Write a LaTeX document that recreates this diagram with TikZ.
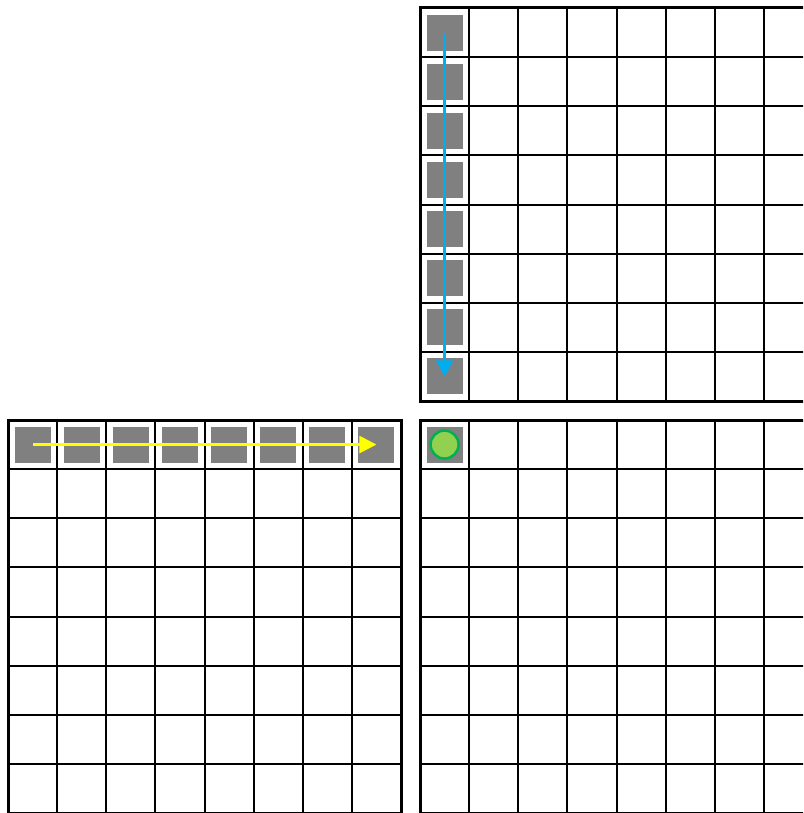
\documentclass[tikz,border=0pt]{standalone}
\usetikzlibrary{arrows.meta}
\definecolor{sqgray}{HTML}{808080}
\definecolor{arrblue}{HTML}{00AEEF}
\definecolor{arryellow}{HTML}{FFFF00}
\definecolor{dotfill}{HTML}{92D050}
\definecolor{dotline}{HTML}{00B050}
\tikzset{
  innerline/.style={draw=black,line width=2pt},
  outerline/.style={draw=black,line width=3pt},
  graysq/.style={rectangle,fill=sqgray,draw=none,minimum size=36pt,inner sep=0pt},
  greendot/.style={circle,fill=dotfill,draw=dotline,line width=2.5pt,minimum size=28pt,inner sep=0pt},
  bluearrow/.style={draw=arrblue,line width=3pt,-{Triangle[length=16pt,width=17pt]}},
  yellowarrow/.style={draw=arryellow,line width=2.5pt,-{Triangle[length=17pt,width=17pt]}}
}
\begin{document}
\begin{tikzpicture}[x=1pt,y=-1pt]
\useasboundingbox (0,0) rectangle (803,813);
\clip (0,0) rectangle (803,813);
\def\cs{49.125}
% grids
\foreach \X/\Y in {420/8, 8/420, 420/420} {
  \foreach \i in {1,...,7} {
    \draw[innerline] ({\X+\i*\cs},\Y) -- ({\X+\i*\cs},{\Y+8*\cs});
    \draw[innerline] (\X,{\Y+\i*\cs}) -- ({\X+8*\cs},{\Y+\i*\cs});
  }
  \draw[outerline] (\X,\Y) rectangle ({\X+8*\cs},{\Y+8*\cs});
}
% gray squares, top-right grid (first column)
\foreach \i in {1,...,8} {
  \node[graysq] (v\i) at ({420+0.5*\cs},{8+(\i-0.5)*\cs}) {};
}
% gray squares, bottom-left grid (first row)
\foreach \i in {1,...,8} {
  \node[graysq] (h\i) at ({8+(\i-0.5)*\cs},{420+0.5*\cs}) {};
}
% bottom-right grid: gray square with green dot
\node[graysq] (g) at ({420+0.5*\cs},{420+0.5*\cs}) {};
\node[greendot] (dot) at (g.center) {};
% arrows
\draw[bluearrow] (v1.center) -- (v8.center);
\draw[yellowarrow] (h1.center) -- (h8.center);
\end{tikzpicture}
\end{document}
